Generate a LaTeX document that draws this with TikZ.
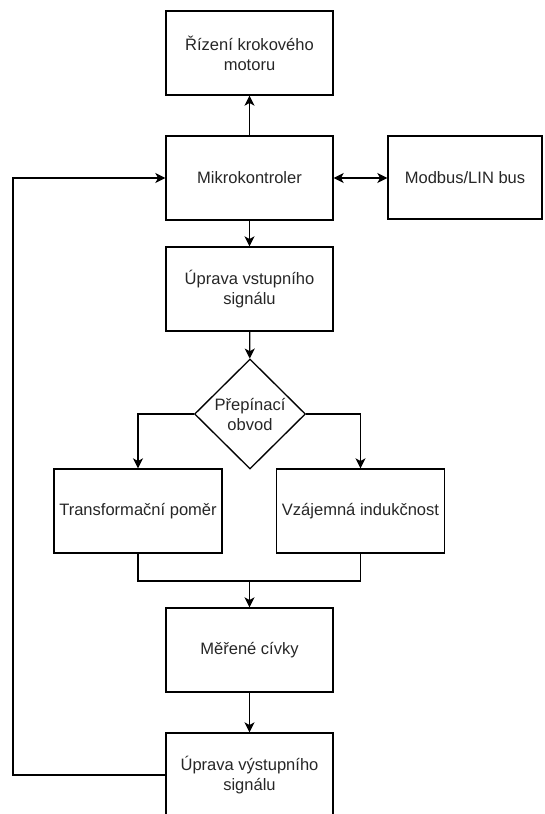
\documentclass[tikz,border=0pt]{standalone}
\usepackage{fontspec}
\setmainfont{Liberation Sans}
\usetikzlibrary{arrows.meta,shapes.geometric}
\begin{document}
\begin{tikzpicture}[x=0.75pt,y=-0.75pt,
  every node/.style={font=\fontsize{12.4}{15}\selectfont, text=black!85},
  box/.style={draw, line width=1pt, minimum width=125.25pt, minimum height=63pt, align=center, inner sep=0pt},
  dia/.style={draw, line width=1pt, shape=diamond, minimum width=83.25pt, minimum height=82.5pt, align=center, inner sep=0pt},
  ln/.style={line width=1pt},
  arr/.style={line width=1pt, -{Stealth[length=7.5pt,width=7.5pt,inset=2pt]}},
  darr/.style={line width=1pt, {Stealth[length=7.5pt,width=7.5pt,inset=2pt]}-{Stealth[length=7.5pt,width=7.5pt,inset=2pt]}}]
\clip (0,0) rectangle (544,814);
\node[box] (rizeni) at (249.5,53) {Řízení krokového\\motoru};
\node[box] (mikro) at (249.5,178) {Mikrokontroler};
\node[box, minimum width=115.5pt, minimum height=62.25pt] (modbus) at (465,177.5) {Modbus/LIN bus};
\node[box] (vstup) at (249.5,289) {Úprava vstupního\\signálu};
\node[dia] (prep) at (250,414) {Přepínací\\obvod};
\node[box, minimum width=126pt] (trans) at (138,511) {Transformační poměr};
\node[box, minimum width=126pt] (vzaj) at (360.5,511) {Vzájemná indukčnost};
\node[box] (merene) at (249.5,650) {Měřené cívky};
\node[box] (vystup) at (249.5,775) {Úprava výstupního\\signálu};
\coordinate (m) at (249.5,581);
\coordinate (fb) at (13,775);
\draw[arr] (mikro) -- (rizeni);
\draw[darr] (mikro.east) -- (modbus.west |- mikro.east);
\draw[arr] (mikro) -- (vstup);
\draw[arr] (vstup) -- (prep);
\draw[arr] (prep.west) -| (trans.north);
\draw[arr] (prep.east) -| (vzaj.north);
\draw[ln] (trans.south) |- (m);
\draw[ln] (vzaj.south) |- (m);
\draw[arr] (m) -- (merene);
\draw[arr] (merene) -- (vystup);
\draw[arr] (vystup.west) -- (fb) |- (mikro.west);
\end{tikzpicture}
\end{document}
